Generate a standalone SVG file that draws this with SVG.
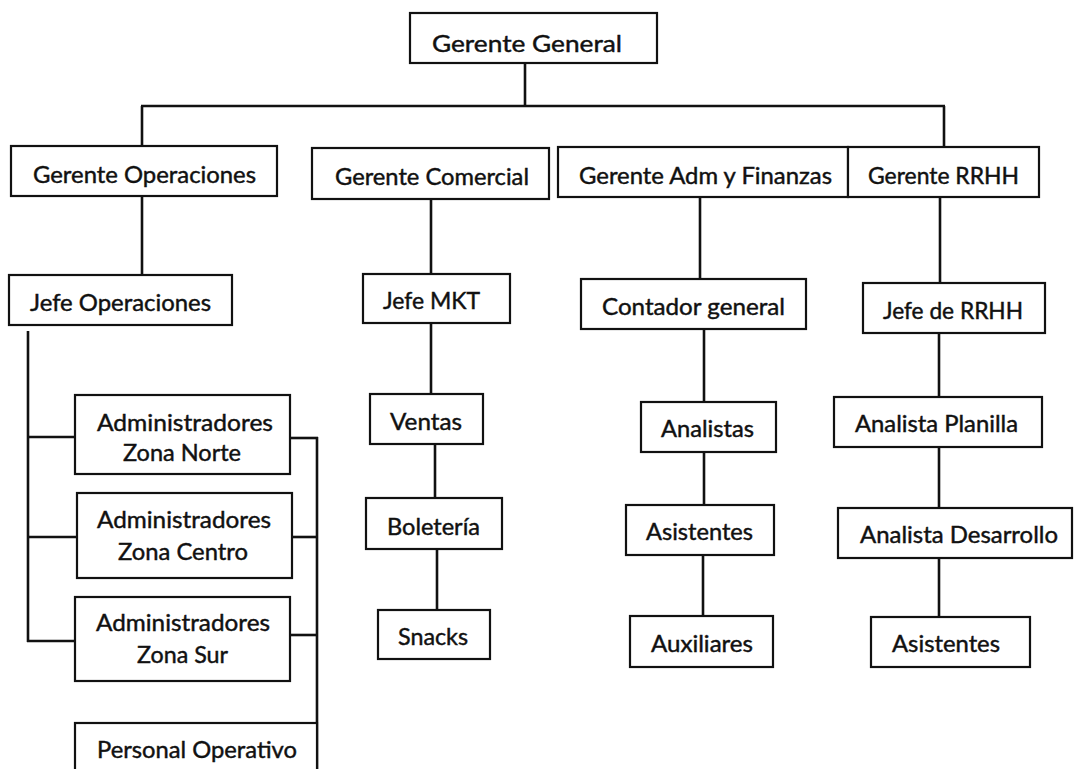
<svg xmlns="http://www.w3.org/2000/svg" width="1074" height="769" viewBox="0 0 1074 769">
<style>
rect.box{fill:#fff;stroke:#111;stroke-width:2.2}
text{font-family:Lato,"Liberation Sans",sans-serif;font-size:24px;fill:#111;stroke:#111;stroke-width:0.45;text-anchor:middle}
#connectors line{stroke:#111;stroke-width:2.6;stroke-linecap:butt}
</style>
<rect width="1074" height="769" fill="#fff"/>
<g id="connectors">
<line x1="525" y1="63" x2="525" y2="106"/>
<line x1="141" y1="106" x2="945" y2="106"/>
<line x1="142" y1="106" x2="142" y2="146"/>
<line x1="944" y1="106" x2="944" y2="147"/>
<line x1="142" y1="196" x2="142" y2="275"/>
<line x1="431" y1="199" x2="431" y2="274"/>
<line x1="700" y1="197" x2="700" y2="279"/>
<line x1="940" y1="197" x2="940" y2="283"/>
<line x1="28" y1="331" x2="28" y2="642"/>
<line x1="27" y1="437" x2="75" y2="437"/>
<line x1="27" y1="537" x2="77" y2="537"/>
<line x1="27" y1="641" x2="75" y2="641"/>
<line x1="290" y1="438" x2="318" y2="438"/>
<line x1="292" y1="537" x2="317" y2="537"/>
<line x1="290" y1="635" x2="317" y2="635"/>
<line x1="317" y1="437" x2="317" y2="769"/>
<line x1="431" y1="323" x2="431" y2="394"/>
<line x1="435" y1="444" x2="435" y2="498"/>
<line x1="437" y1="549" x2="437" y2="610"/>
<line x1="704" y1="329" x2="704" y2="402"/>
<line x1="704" y1="452" x2="704" y2="505"/>
<line x1="703" y1="555" x2="703" y2="616"/>
<line x1="939" y1="333" x2="939" y2="397"/>
<line x1="939" y1="447" x2="939" y2="508"/>
<line x1="939" y1="558" x2="939" y2="617"/>
</g>
<g id="gerente-general"><rect class="box" x="410" y="13" width="247" height="50"/><text x="527" y="52" textLength="190" lengthAdjust="spacingAndGlyphs">Gerente General</text></g>
<g id="gerente-operaciones"><rect class="box" x="11" y="146" width="266" height="50"/><text x="144.5" y="183" textLength="223" lengthAdjust="spacingAndGlyphs">Gerente Operaciones</text></g>
<g id="gerente-comercial"><rect class="box" x="312" y="148" width="237" height="51"/><text x="432" y="185" textLength="194" lengthAdjust="spacingAndGlyphs">Gerente Comercial</text></g>
<g id="gerente-adm-finanzas"><rect class="box" x="558" y="147" width="290" height="50"/><text x="705.5" y="184" textLength="253" lengthAdjust="spacingAndGlyphs">Gerente Adm y Finanzas</text></g>
<g id="gerente-rrhh"><rect class="box" x="848" y="147" width="191" height="50"/><text x="943.5" y="184" textLength="151" lengthAdjust="spacingAndGlyphs">Gerente RRHH</text></g>
<g id="jefe-operaciones"><rect class="box" x="9" y="275" width="223" height="50"/><text x="120.5" y="311" textLength="181" lengthAdjust="spacingAndGlyphs">Jefe Operaciones</text></g>
<g id="jefe-mkt"><rect class="box" x="363" y="274" width="147" height="49"/><text x="431.5" y="309" textLength="97" lengthAdjust="spacingAndGlyphs">Jefe MKT</text></g>
<g id="contador-general"><rect class="box" x="581" y="279" width="225" height="50"/><text x="693.5" y="315" textLength="183" lengthAdjust="spacingAndGlyphs">Contador general</text></g>
<g id="jefe-rrhh"><rect class="box" x="863" y="283" width="182" height="50"/><text x="953" y="319" textLength="140" lengthAdjust="spacingAndGlyphs">Jefe de RRHH</text></g>
<g id="adm-zona-norte"><rect class="box" x="75" y="395" width="215" height="79"/><text x="185" y="431" textLength="176" lengthAdjust="spacingAndGlyphs">Administradores</text><text x="182" y="461" textLength="118" lengthAdjust="spacingAndGlyphs">Zona Norte</text></g>
<g id="adm-zona-centro"><rect class="box" x="77" y="493" width="215" height="85"/><text x="184" y="528" textLength="174" lengthAdjust="spacingAndGlyphs">Administradores</text><text x="183" y="560" textLength="130" lengthAdjust="spacingAndGlyphs">Zona Centro</text></g>
<g id="adm-zona-sur"><rect class="box" x="75" y="597" width="215" height="84"/><text x="183" y="631" textLength="174" lengthAdjust="spacingAndGlyphs">Administradores</text><text x="182.5" y="663" textLength="91" lengthAdjust="spacingAndGlyphs">Zona Sur</text></g>
<g id="personal-operativo"><rect class="box" x="75" y="723" width="242" height="70"/><text x="197" y="758" textLength="200" lengthAdjust="spacingAndGlyphs">Personal Operativo</text></g>
<g id="ventas"><rect class="box" x="370" y="394" width="113" height="50"/><text x="426" y="430" textLength="72" lengthAdjust="spacingAndGlyphs">Ventas</text></g>
<g id="boleteria"><rect class="box" x="366" y="498" width="136" height="51"/><text x="433.5" y="535" textLength="93" lengthAdjust="spacingAndGlyphs">Boletería</text></g>
<g id="snacks"><rect class="box" x="378" y="610" width="112" height="49"/><text x="433" y="645" textLength="70" lengthAdjust="spacingAndGlyphs">Snacks</text></g>
<g id="analistas"><rect class="box" x="641" y="402" width="135" height="50"/><text x="707.5" y="437" textLength="93" lengthAdjust="spacingAndGlyphs">Analistas</text></g>
<g id="asistentes-af"><rect class="box" x="626" y="505" width="148" height="50"/><text x="699.5" y="540" textLength="107" lengthAdjust="spacingAndGlyphs">Asistentes</text></g>
<g id="auxiliares"><rect class="box" x="630" y="616" width="143" height="51"/><text x="702" y="652" textLength="102" lengthAdjust="spacingAndGlyphs">Auxiliares</text></g>
<g id="analista-planilla"><rect class="box" x="834" y="397" width="208" height="50"/><text x="936.5" y="432" textLength="163" lengthAdjust="spacingAndGlyphs">Analista Planilla</text></g>
<g id="analista-desarrollo"><rect class="box" x="838" y="508" width="234" height="50"/><text x="959" y="543" textLength="198" lengthAdjust="spacingAndGlyphs">Analista Desarrollo</text></g>
<g id="asistentes-rrhh"><rect class="box" x="871" y="617" width="159" height="50"/><text x="946" y="652" textLength="108" lengthAdjust="spacingAndGlyphs">Asistentes</text></g>
</svg>
